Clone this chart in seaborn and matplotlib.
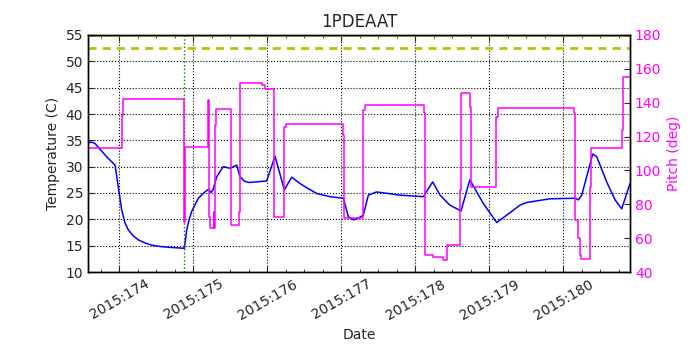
import matplotlib
matplotlib.use('Agg')
import matplotlib.pyplot as plt
import matplotlib.ticker as mticker
import seaborn as sns

# temperature (C) vs day of year 2015
temp_days = [173.577, 173.618, 173.672, 173.739, 173.834, 173.942, 173.986, 174.032,
             174.077, 174.122, 174.185, 174.257, 174.35, 174.438, 174.55, 174.662, 174.878,
             174.911, 174.945, 174.978, 175.068, 175.140, 175.203, 175.239, 175.266, 175.316,
             175.405, 175.496, 175.586, 175.631, 175.685, 175.743, 175.85, 175.992,
             176.104, 176.230, 176.330, 176.442, 176.509, 176.668, 176.847, 177.027,
             177.095, 177.162, 177.226, 177.297, 177.365, 177.476, 177.791, 178.108,
             178.235, 178.334, 178.466, 178.618, 178.736, 178.919, 179.100, 179.235,
             179.415, 179.505, 179.820, 180.159, 180.203, 180.249, 180.397, 180.451,
             180.586, 180.699, 180.789, 180.901]
temp_vals = [34.4, 34.7, 34.4, 33.3, 31.8, 30.3, 26.2, 21.8,
             19.3, 18.0, 16.9, 16.1, 15.5, 15.1, 14.85, 14.7, 14.5,
             18.0, 20.0, 21.5, 24.0, 25.0, 25.7, 25.1, 25.6, 28.1,
             30.0, 29.7, 30.3, 28.1, 27.3, 27.0, 27.1, 27.3,
             32.0, 25.6, 28.0, 26.8, 26.2, 24.9, 24.3, 24.0,
             20.5, 19.9, 20.2, 20.8, 24.6, 25.2, 24.6, 24.3,
             27.1, 24.6, 22.7, 21.6, 27.5, 23.0, 19.4, 20.8,
             22.7, 23.2, 23.9, 24.0, 23.7, 24.6, 32.4, 31.9,
             27.1, 23.7, 22.0, 26.8]

# pitch (deg) step changes
pitch_days = [173.577, 174.036, 174.046, 174.878, 174.885, 175.203, 175.212, 175.226,
              175.280, 175.286, 175.297, 175.311, 175.505, 175.622, 175.635, 175.924,
              175.965, 176.095, 176.230, 176.257, 177.027, 177.041, 177.297, 177.324,
              178.118, 178.127, 178.135, 178.239, 178.374, 178.428, 178.608, 178.618,
              178.735, 178.749, 179.091, 179.111, 180.145, 180.162, 180.199, 180.230,
              180.243, 180.365, 180.378, 180.793, 180.811, 180.901]
pitch_vals = [113.4, 133.0, 142.0, 69.7, 113.7, 141.6, 72.7, 65.8,
              75.6, 65.8, 126.8, 136.3, 67.8, 75.6, 151.5, 150.5,
              148.0, 72.3, 125.9, 127.2, 121.0, 71.7, 135.7, 138.7,
              133.8, 82.5, 50.0, 48.7, 47.1, 56.0, 88.4, 145.6,
              137.7, 90.4, 131.4, 136.7, 133.8, 70.7, 60.0, 50.0,
              47.5, 90.4, 113.1, 123.9, 155.0, 155.0]

planning_limit = 52.5
caution_limit = 55.0
event_day = 174.878
day_ticks = [174, 175, 176, 177, 178, 179, 180]

sns.set_style('white')
plt.rcParams['font.family'] = ['DejaVu Sans']
plt.rcParams['font.size'] = 10

fig = plt.figure(figsize=(7, 3.5), dpi=100)
ax = fig.add_axes([88 / 700, 78 / 350, 542 / 700, 237 / 350])

sns.lineplot(x=temp_days, y=temp_vals, ax=ax, color='blue', lw=1.1)
ax.axhline(planning_limit, color='y', ls='--', lw=2, dashes=(2.9, 2.2))
ax.axhline(caution_limit, color='y', lw=2)
ax.axvline(event_day, color='green', ls=':', lw=1)

ax.set_xlim(173.577, 180.901)
ax.set_ylim(10, 55)
ax.set_yticks(range(10, 56, 5))
ax.set_xticks(day_ticks)
ax.xaxis.set_major_formatter(mticker.FuncFormatter(lambda v, p: '2015:%d' % round(v)))
ax.xaxis.set_minor_locator(mticker.MultipleLocator(0.25))
ax.grid(True, which='major', color='black', ls=':', lw=0.8)
ax.tick_params(axis='x', which='both', direction='in', top=True, bottom=True)
ax.tick_params(axis='x', which='major', length=4, labelsize=10)
ax.tick_params(axis='x', which='minor', length=2)
ax.tick_params(axis='y', direction='in', left=True, length=4, labelsize=10)
for lab in ax.get_xticklabels():
    lab.set_rotation(30)
    lab.set_ha('center')
ax.set_xlabel('Date', fontsize=10)
ax.set_ylabel('Temperature (C)', fontsize=10)
ax.set_title('1PDEAAT', fontsize=12)

ax2 = ax.twinx()
sns.lineplot(x=pitch_days, y=pitch_vals, ax=ax2, color='magenta', lw=1.1,
             drawstyle='steps-post')
ax2.set_ylim(40, 180)
ax2.set_yticks(range(40, 181, 20))
ax2.tick_params(axis='y', direction='in', right=True, length=4, labelsize=10,
                labelcolor='magenta')
ax2.set_ylabel('Pitch (deg)', color='magenta', fontsize=10)
ax2.set_xlim(173.577, 180.901)

for a in (ax, ax2):
    for s in a.spines.values():
        s.set_color('black')
        s.set_linewidth(1)

fig.savefig('out.png', dpi=100)
